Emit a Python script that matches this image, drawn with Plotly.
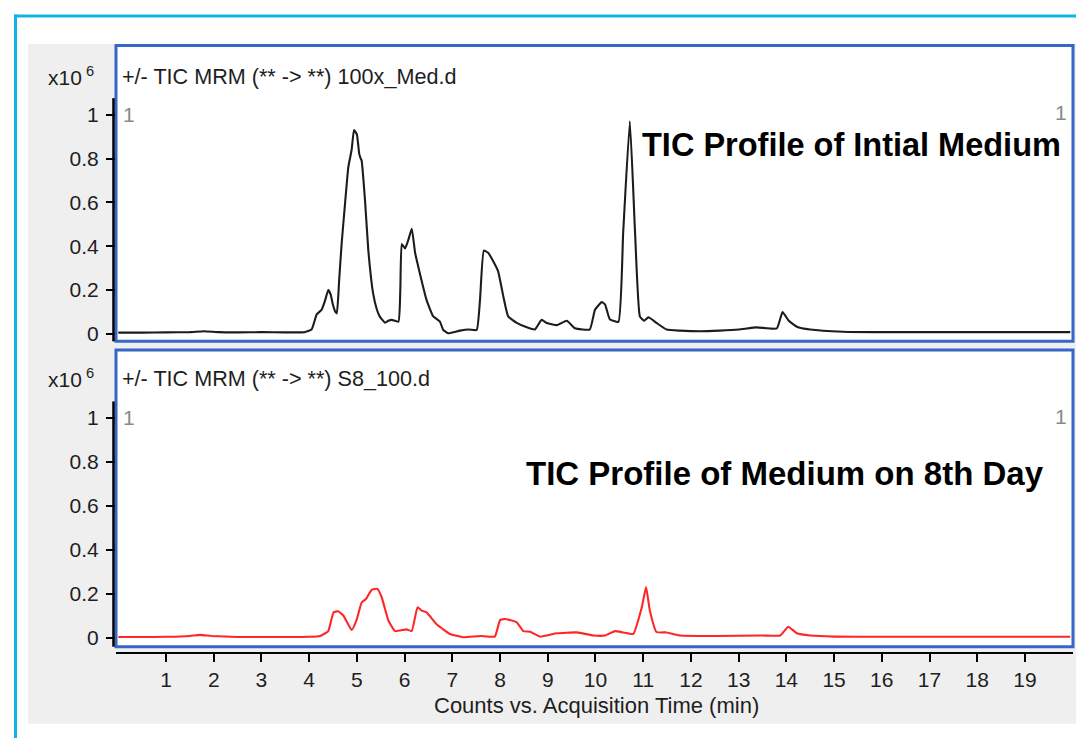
import plotly.graph_objects as go

W, H = 1076, 738

# ---------------- data ----------------
t_initial = [0.0, 0.5, 1.0, 1.5, 1.8, 2.1, 2.5, 3.0, 3.5, 3.9, 4.05, 4.16, 4.26, 4.33, 4.40, 4.45,
             4.49, 4.55, 4.58, 4.63, 4.68, 4.75, 4.82, 4.89, 4.94, 5.00, 5.05, 5.08, 5.10, 5.17,
             5.24, 5.34, 5.42, 5.48, 5.59, 5.66, 5.73, 5.87, 5.91, 5.94, 6.01, 6.08, 6.15, 6.22,
             6.32, 6.46, 6.60, 6.74, 6.81, 6.92, 7.16, 7.35, 7.51, 7.58, 7.66, 7.75, 7.86, 7.96,
             8.07, 8.17, 8.35, 8.56, 8.73, 8.87, 8.98, 9.19, 9.40, 9.57, 9.88, 9.99, 10.13, 10.20,
             10.30, 10.48, 10.58, 10.72, 10.83, 10.93, 11.02, 11.11, 11.28, 11.49, 11.77, 12.2,
             12.6, 13.0, 13.38, 13.80, 13.92, 14.05, 14.22, 14.50, 15.19, 16.0, 17.0, 18.0, 19.0, 19.95]
v_initial = [0.006, 0.006, 0.007, 0.008, 0.012, 0.008, 0.007, 0.008, 0.007, 0.008, 0.02, 0.09, 0.11, 0.15, 0.20, 0.18,
             0.14, 0.10, 0.094, 0.25, 0.41, 0.59, 0.76, 0.84, 0.93, 0.91, 0.82, 0.80, 0.79, 0.61,
             0.38, 0.185, 0.11, 0.079, 0.051, 0.06, 0.064, 0.056, 0.20, 0.41, 0.39, 0.43, 0.48, 0.37,
             0.276, 0.155, 0.08, 0.056, 0.018, 0.003, 0.015, 0.02, 0.018, 0.155, 0.38, 0.37, 0.33, 0.285,
             0.17, 0.08, 0.05, 0.03, 0.02, 0.064, 0.05, 0.04, 0.06, 0.026, 0.02, 0.11, 0.145, 0.135,
             0.067, 0.055, 0.46, 0.97, 0.46, 0.08, 0.06, 0.076, 0.05, 0.02, 0.015, 0.012,
             0.015, 0.02, 0.03, 0.025, 0.10, 0.06, 0.033, 0.02, 0.01, 0.008, 0.008, 0.008, 0.008, 0.008]

t_day8 = [0.0, 0.5, 1.0, 1.5, 1.71, 1.95, 2.5, 3.0, 3.5, 4.0, 4.23, 4.40, 4.51, 4.61, 4.72, 4.89,
          5.00, 5.10, 5.19, 5.31, 5.43, 5.52, 5.66, 5.80, 6.04, 6.15, 6.27, 6.36, 6.46, 6.67,
          6.95, 7.23, 7.58, 7.89, 8.00, 8.10, 8.35, 8.49, 8.63, 8.84, 9.19, 9.61, 9.96, 10.2,
          10.41, 10.58, 10.79, 10.97, 11.06, 11.14, 11.28, 11.49, 11.77, 12.5, 13.5, 13.87,
          14.04, 14.22, 14.5, 15.0, 16.0, 17.0, 18.0, 19.0, 19.95]
v_day8 = [0.003, 0.003, 0.004, 0.008, 0.013, 0.008, 0.003, 0.003, 0.003, 0.004, 0.008, 0.03, 0.115, 0.12, 0.10, 0.035,
          0.085, 0.16, 0.176, 0.218, 0.222, 0.184, 0.078, 0.03, 0.038, 0.03, 0.138, 0.123, 0.115, 0.061,
          0.017, 0.002, 0.008, 0.005, 0.08, 0.085, 0.07, 0.03, 0.027, 0.005, 0.02, 0.024, 0.01, 0.01,
          0.03, 0.024, 0.017, 0.138, 0.23, 0.123, 0.026, 0.024, 0.01, 0.008, 0.01, 0.01,
          0.05, 0.02, 0.01, 0.005, 0.004, 0.004, 0.004, 0.004, 0.004]

x_ticks = list(range(1, 20))
y_ticks = [0, 0.2, 0.4, 0.6, 0.8, 1.0]
y_tick_text = ["0", "0.2", "0.4", "0.6", "0.8", "1"]

header_top = "+/- TIC MRM (** -> **) 100x_Med.d"
header_bot = "+/- TIC MRM (** -> **) S8_100.d"
label_top = "TIC Profile of Intial Medium"
label_bot = "TIC Profile of Medium on 8th Day"
x_title = "Counts vs. Acquisition Time (min)"

# ---------------- helpers (pixel -> paper) ----------------
VS = 0.9935  # small vertical correction observed in the rendered screenshot

def px(x):
    return x / W

def py(y):
    return 1 - (y / VS) / H

FONT = "Liberation Sans, Arial, sans-serif"
TXT = "#1e1e1e"

fig = go.Figure()
fig.add_trace(go.Scatter(x=t_initial, y=v_initial, mode="lines", xaxis="x", yaxis="y",
                         line=dict(color="#1c1c1c", width=2.1, shape="spline", smoothing=0.4),
                         showlegend=False))
fig.add_trace(go.Scatter(x=t_day8, y=v_day8, mode="lines", xaxis="x2", yaxis="y2",
                         line=dict(color="#ff2626", width=2.1, shape="spline", smoothing=0.4),
                         showlegend=False))

XL, XR = 116, 1073
xrange_ = [-0.048, 20.007]
ycommon = dict(ticks="outside", ticklen=9, tickwidth=2, tickcolor="black",
               tickvals=y_ticks, ticktext=y_tick_text, showgrid=False, zeroline=False,
               showline=False, ticklabelstandoff=3,
               tickfont=dict(family=FONT, size=21, color=TXT))

fig.update_layout(
    width=W, height=H, margin=dict(l=0, r=0, t=0, b=0), autosize=False,
    paper_bgcolor="white", plot_bgcolor="white",
    xaxis=dict(domain=[px(XL), px(XR)], range=xrange_, anchor="y", visible=False, matches="x2"),
    yaxis=dict(domain=[py(341), py(46)], range=[-0.034, 1.313], anchor="x", **ycommon),
    xaxis2=dict(domain=[px(XL), px(XR)], range=xrange_, anchor="free", position=py(652),
                showline=True, linecolor="black", linewidth=2, ticks="outside", ticklen=8,
                tickwidth=2, tickcolor="black", tickvals=x_ticks, showgrid=False, zeroline=False,
                tickfont=dict(family=FONT, size=21, color=TXT)),
    yaxis2=dict(domain=[py(646), py(349)], range=[-0.041, 1.312], anchor="x2", **ycommon),
)

shapes = []
# grey panel background
shapes.append(dict(type="rect", xref="paper", yref="paper", x0=px(28), x1=px(1076), y0=py(723), y1=py(44),
                   fillcolor="#efefef", line=dict(width=0), layer="below"))
# white plot areas
for (t, b) in [(46, 341), (349, 646)]:
    shapes.append(dict(type="rect", xref="paper", yref="paper", x0=px(XL), x1=px(XR), y0=py(b), y1=py(t),
                       fillcolor="white", line=dict(width=0), layer="below"))
# cyan outer frame
shapes.append(dict(type="line", xref="paper", yref="paper", x0=px(14), x1=px(1076), y0=py(16), y1=py(16),
                   line=dict(color="#0fb4e4", width=3)))
shapes.append(dict(type="line", xref="paper", yref="paper", x0=px(15.5), x1=px(15.5), y0=py(14.5), y1=py(745),
                   line=dict(color="#0fb4e4", width=3)))
# blue panel borders
for (t, b) in [(45.5, 341), (349.5, 646)]:
    shapes.append(dict(type="rect", xref="paper", yref="paper", x0=px(116), x1=px(1073), y0=py(b), y1=py(t),
                       line=dict(color="#3567c8", width=3), fillcolor="rgba(0,0,0,0)"))
# black y axis lines
for (t, b) in [(98, 341), (401, 646)]:
    shapes.append(dict(type="line", xref="paper", yref="paper", x0=px(113.5), x1=px(113.5), y0=py(b), y1=py(t),
                       line=dict(color="black", width=2.5)))
fig.update_layout(shapes=shapes)

def ann(text, x, y, xanchor="left", size=21, color=TXT):
    fig.add_annotation(text=text, x=px(x), y=py(y), xref="paper", yref="paper",
                       xanchor=xanchor, yanchor="middle", showarrow=False,
                       font=dict(family=FONT, size=size, color=color))

for base in (0, 302):
    ann("x10<sup> 6</sup>", 96, 76 + base, xanchor="right")
ann(header_top, 120, 76, size=21.6)
ann(header_bot, 120, 378, size=21.6)
ann("1", 121, 114, color="#8a8a8a")
ann("1", 1069, 112, xanchor="right", color="#8a8a8a")
ann("1", 121, 417, color="#8a8a8a")
ann("1", 1069, 416, xanchor="right", color="#8a8a8a")
ann("<b>" + label_top + "</b>", 851, 145, xanchor="center", size=32.5, color="black")
ann("<b>" + label_bot + "</b>", 785, 473, xanchor="center", size=33, color="black")
ann(x_title, 596, 705, xanchor="center", size=22)

fig.write_html("out.html",
               config={"displayModeBar": False, "responsive": False},
               post_script="document.body.style.margin='0';document.body.style.overflow='hidden';")
